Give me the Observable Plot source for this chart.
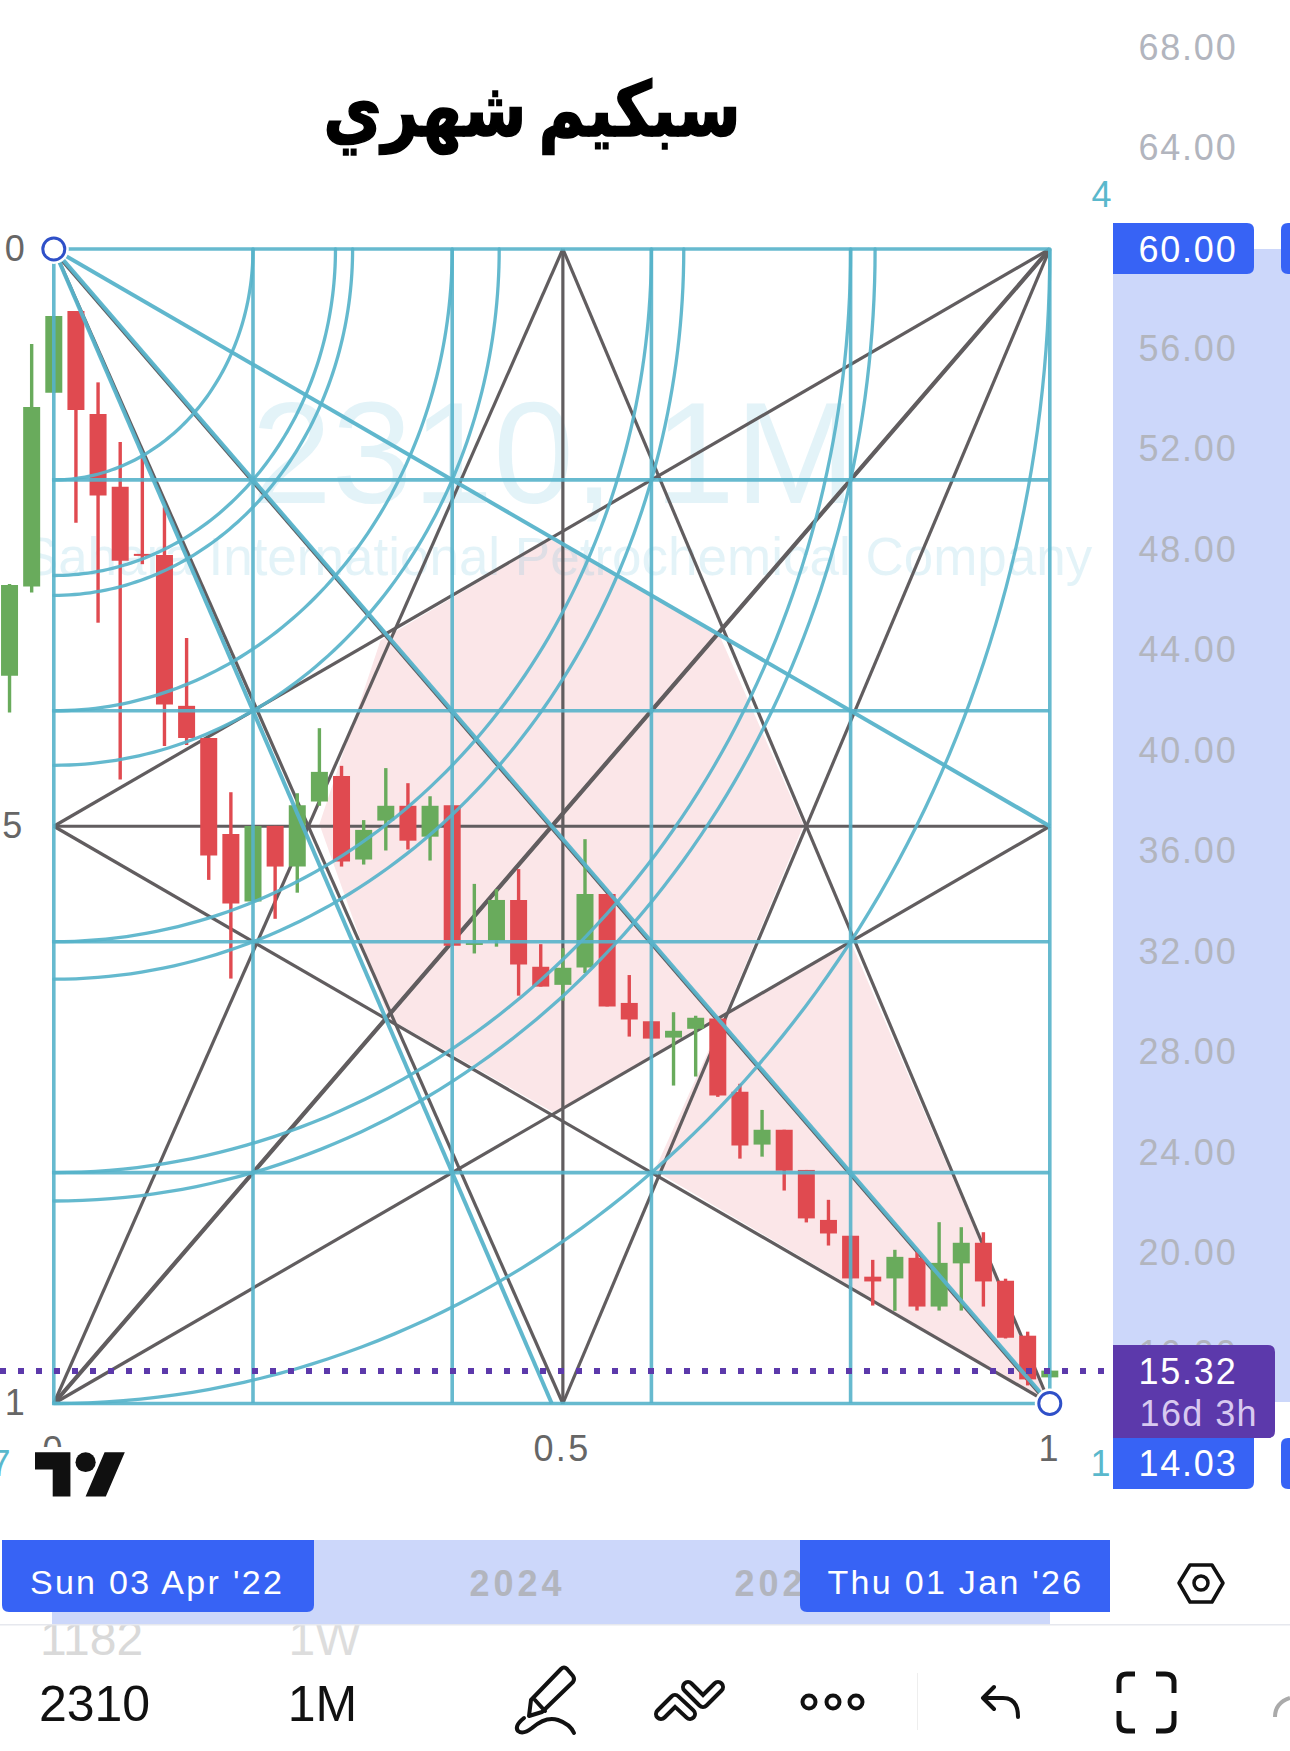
<!DOCTYPE html>
<html lang="ar">
<head>
<meta charset="utf-8">
<title>2310 1M</title>
<script src="https://cdn.jsdelivr.net/npm/d3@7"></script>
<script src="https://cdn.jsdelivr.net/npm/@observablehq/plot@0.6"></script>
<style>
html,body{margin:0;padding:0;background:#fff;overflow:hidden}
svg{display:block}
</style>
</head>
<body>
<div id="chart"></div>
<script>
// ---------- data ----------
const opens  = [42.99,46.54,54.26,57.51,53.41,50.51,47.84,47.80,41.79,40.51,36.69,34.00,37.01,35.39,37.98,39.00,35.67,37.22,37.81,36.58,37.83,32.27,32.44,34.06,31.40,30.68,31.37,34.30,29.96,29.23,28.58,28.93,29.34,26.42,24.32,24.91,23.31,21.32,20.69,19.06,18.99,19.81,17.87,19.59,20.41,18.90,16.71,15.05];
const highs  = [46.64,56.20,57.31,57.51,54.67,52.30,51.65,49.70,44.49,40.51,38.35,37.01,37.01,38.31,40.90,39.40,37.24,39.31,38.71,38.19,37.83,34.70,34.49,35.29,32.30,32.14,36.48,34.30,31.07,29.23,29.59,29.45,29.34,26.74,25.70,24.91,23.31,22.12,20.69,19.73,20.13,20.05,21.23,21.03,20.83,18.98,16.87,15.32];
const lows   = [41.52,46.30,54.26,49.08,45.10,38.86,47.43,40.19,40.23,34.86,30.93,34.00,33.31,34.35,37.81,35.39,35.47,36.03,36.07,35.63,32.24,31.93,32.20,30.25,30.61,30.05,31.15,29.82,28.62,28.54,26.67,27.03,26.22,23.76,23.84,22.49,21.22,20.30,18.99,17.91,17.70,17.71,17.71,17.71,17.87,16.60,14.73,15.05];
const closes = [46.60,53.69,57.31,53.57,50.16,47.57,47.76,41.84,40.51,35.83,33.92,37.01,35.39,37.83,39.16,35.59,36.85,37.81,36.42,37.81,32.24,32.35,34.06,31.49,30.61,31.36,34.30,29.82,29.30,28.54,28.85,29.37,26.27,24.28,24.91,23.28,21.38,20.78,18.99,18.87,19.85,17.87,19.61,20.41,18.87,16.63,14.97,15.32];

const priceTicks = [68,64,60,56,52,48,44,40,36,32,28,24,20,16];
const lastPrice = 15.32, boxHigh = 60, boxLow = 14.03, boxMid = 37.015;
const boxStart = 2, boxEnd = 47, boxCentre = 25, boxHalf = 24.5;
const gridLevels = [0,0.2,0.4,0.6,0.8,1];
const arcRadii = [0.2,0.2828,0.3,0.4,0.4472,0.6,0.6325,0.8,0.8246,1];

// pattern fill outlines: [bar position, price]
const patternUpper = [[14.0,37.09],[16.76,44.41],[24.58,48.51],[32.12,44.53],[35.87,37.05],[32.30,29.49],[24.58,25.62],[17.12,29.37]];
const patternLower = [[32.30,29.49],[38,32.43],[47,14.03],[29.14,23.31]];

// ---------- colours ----------
const teal="#57b3ca", grey="#615d5f", up="#69ab5c", down="#e04a50", pink="#fbe6e8",
      blue="#3763f5", band="#ccd7fa", purple="#5c39ab", axisGrey="#b2b5be", lvlGrey="#666666", tealLabel="#5ab8cc";

// ---------- derived tables ----------
const candles = opens.map((open,i)=>({i,open,high:highs[i],low:lows[i],close:closes[i]}));
const colorOf = d => d.close>=d.open ? up : down;
const xFrac = f => boxStart + f*(boxEnd-boxStart);
const yFrac = f => boxHigh - f*(boxHigh-boxLow);
const tealRays = [[boxHalf,boxLow],[boxEnd,boxLow],[boxEnd,boxMid]].map(([x2,y2])=>({x1:boxStart,y1:boxHigh,x2,y2}));
const greyLines = [
  [boxStart,boxLow,boxCentre,boxHigh],[boxStart,boxLow,boxEnd,boxMid],[boxStart,boxLow,boxEnd,boxHigh],
  [boxEnd,boxHigh,boxCentre,boxLow],[boxEnd,boxHigh,boxStart,boxMid],
  [boxStart,boxHigh,boxCentre,boxLow],[boxEnd,boxLow,boxCentre,boxHigh],[boxEnd,boxLow,boxStart,boxMid],
  [boxEnd,boxMid,boxStart,boxMid],[boxCentre,boxHigh,boxCentre,boxLow]
].map(([x1,y1,x2,y2])=>({x1,y1,x2,y2}));
const arcAngles = d3.range(0,90.5,1);

// ---------- helpers ----------
const sans = "Liberation Sans, Arial, sans-serif";
const label = (t,x,y,o={}) => Plot.text([t],{text:d=>d,frameAnchor:"top-left",dx:x,dy:y,textAnchor:"middle",lineAnchor:"middle",fontFamily:sans,fontSize:36,...o});
function rr(x,y,w,h,tl,tr,br,bl){
  return `M${x+tl} ${y}H${x+w-tr}Q${x+w} ${y} ${x+w} ${y+tr}V${y+h-br}Q${x+w} ${y+h} ${x+w-br} ${y+h}H${x+bl}Q${x} ${y+h} ${x} ${y+h-bl}V${y+tl}Q${x} ${y} ${x+tl} ${y}Z`;
}
const chrome = draw => () => { const g=d3.create("svg:g"); draw(g); return g.node(); };
const R = (g,x,y,w,h,f)=>g.append("rect").attr("x",x).attr("y",y).attr("width",w).attr("height",h).attr("fill",f);
const P = (g,d,f,s,w)=>g.append("path").attr("d",d).attr("fill",f||"none").attr("stroke",s||"none").attr("stroke-width",w||0).attr("stroke-linecap","round").attr("stroke-linejoin","round");

const backdrop = chrome(g=>{ R(g,1113,249,177,1153,band); });
const labelBoxes = chrome(g=>{
  P(g,rr(1113,223,141,51,0,7,7,0),blue);
  P(g,rr(1281,223,9,51,7,0,0,7),blue);
  P(g,rr(1113,1345,162,93,0,7,7,0),purple);
  P(g,rr(1113,1438,141,51,0,0,7,0),blue);
  P(g,rr(1281,1438,9,51,7,0,0,7),blue);
});
const logoMask = chrome(g=>{ R(g,28,1447,110,54,"#fff"); });
const logo = chrome(g=>{
  const t=g.append("g").attr("transform","translate(35,1442.5) scale(2.53,2.46)");
  t.append("path").attr("d","M14 22H7V11H0V4h14v18zM28 22h-8l7.5-18h8L28 22z").attr("fill","#101010");
  t.append("circle").attr("cx",20).attr("cy",8).attr("r",4).attr("fill","#101010");
});
const bottomBackdrop = chrome(g=>{
  R(g,0,1500,1290,124,"#fff");
  R(g,52,1540,998,84,band);
  R(g,0,1624,1290,1.5,"#e6e8ee");
});
const dateBoxes = chrome(g=>{
  P(g,rr(2,1540,312,72,0,0,7,7),blue);
  P(g,rr(800,1540,310,72,0,0,0,7),blue);
  P(g,"M1179 1583L1190 1565H1212L1223 1583L1212 1602H1190Z",null,"#111",3.5);
  g.append("circle").attr("cx",1201).attr("cy",1583).attr("r",7).attr("fill","none").attr("stroke","#111").attr("stroke-width",3.5);
});
const toolbar = chrome(g=>{
  const k="#111";
  P(g,"M531 1700L561 1669Q564 1666 567 1669L573 1676Q575 1679 573 1682L542 1712L529 1716Z",null,k,4);
  P(g,"M535 1700L545 1711",null,k,4);
  P(g,"M524 1718Q514 1726 518 1731Q523 1735 532 1728Q546 1716 558 1720Q570 1724 574 1733",null,k,4);
  ["M661 1714L675 1700L690 1714","M688 1687L703 1702L718 1687"].forEach(d=>{
    P(g,d,null,k,14); P(g,d,null,"#fff",6);
  });
  [809,833,856].forEach(cx=>g.append("circle").attr("cx",cx).attr("cy",1702).attr("r",6.5).attr("fill","none").attr("stroke",k).attr("stroke-width",4));
  R(g,917,1673,1,57,"#eeeeee");
  P(g,"M994 1687L983 1698L994 1709M983 1698H1003Q1018 1698 1018 1717",null,k,4);
  P(g,"M1119 1693V1682Q1119 1674 1127 1674H1135M1156 1674H1165Q1174 1674 1174 1682V1693M1174 1711V1722Q1174 1731 1165 1731H1156M1135 1731H1127Q1119 1731 1119 1722V1711",null,k,5)
    .attr("stroke-linecap","butt");
  P(g,"M1275 1717Q1275 1703 1290 1698",null,"#aaaaaa",4).attr("stroke-linecap","butt");
});
const title = chrome(g=>{
  g.append("text").text("سبكيم شهري")
    .attr("transform","translate(532,136) scale(0.84,1)")
    .attr("text-anchor","middle")
    .attr("font-family","DejaVu Sans").attr("font-weight",700).attr("font-size",76)
    .attr("fill","#000").attr("stroke","#000").attr("stroke-width",1.6)
    .style("word-spacing","-12px");
});

// ---------- the plot ----------
const chart = Plot.plot({
  width:1290, height:1751,
  marginLeft:0, marginRight:0, marginTop:0, marginBottom:0,
  style:{background:"#fff",fontFamily:sans,overflow:"hidden"},
  x:{domain:[boxStart,boxEnd],range:[53.3,1049.3],axis:null},
  y:{domain:[boxHigh,boxLow],range:[248.5,1403],axis:null},
  color:{type:"identity"},
  marks:[
    backdrop,
    // pattern fills
    Plot.line(patternUpper.concat([patternUpper[0]]),{x:"0",y:"1",stroke:"none",fill:pink}),
    Plot.line(patternLower.concat([patternLower[0]]),{x:"0",y:"1",stroke:"none",fill:pink}),
    // watermark
    label("2310, 1M",553,456,{fontSize:145,fill:"#5ab8d5",fillOpacity:0.17}),
    label("Sahara International Petrochemical Company",557,558,{fontSize:53,fill:"#5ab8d5",fillOpacity:0.17}),
    // grey star
    Plot.link(greyLines,{x1:"x1",y1:"y1",x2:"x2",y2:"y2",stroke:grey,strokeWidth:3.2}),
    Plot.link([{x1:boxStart,y1:boxLow,x2:boxEnd,y2:boxHigh}],{x1:"x1",y1:"y1",x2:"x2",y2:"y2",stroke:grey,strokeWidth:4.2}),
    Plot.link([{x1:boxStart,y1:boxHigh,x2:boxEnd,y2:boxLow}],{x1:"x1",y1:"y1",x2:"x2",y2:"y2",stroke:grey,strokeWidth:3.2,dx:-1,dy:1}),
    // candles
    Plot.ruleX(candles,{x:"i",y1:"low",y2:"high",stroke:colorOf,strokeWidth:3.4}),
    Plot.ruleX(candles,{x:"i",y1:"open",y2:"close",stroke:colorOf,strokeWidth:17}),
    // teal grid, arcs, fan
    Plot.ruleY(gridLevels,{y:yFrac,x1:boxStart-0.06,x2:boxEnd,stroke:teal,strokeWidth:3.6,strokeOpacity:0.9}),
    Plot.ruleX(gridLevels,{x:d=>boxStart+Math.round(d*(boxEnd-boxStart)),y1:boxHigh,y2:boxLow,stroke:teal,strokeWidth:3.6,strokeOpacity:0.9}),
    ...arcRadii.map(r=>Plot.line(arcAngles,{
      x:a=>xFrac(r*Math.cos(a*Math.PI/180)),
      y:a=>yFrac(r*Math.sin(a*Math.PI/180)),
      stroke:teal,strokeWidth:3.3,strokeOpacity:0.92,curve:"linear"})),
    Plot.link(tealRays,{x1:"x1",y1:"y1",x2:"x2",y2:"y2",stroke:teal,strokeWidth:4,strokeOpacity:0.95}),
    // level labels on the box
    Plot.text([[0,boxHigh,"0"],[0.5,boxMid,"0.5"],[1,boxLow,"1"]],{x:()=>boxStart,y:"1",text:"2",dx:-29,textAnchor:"end",fill:lvlGrey,fontSize:36,fontFamily:sans}),
    label("0",52,1450,{fill:lvlGrey}),
    label("0.5",561.5,1449,{fill:lvlGrey}),
    label("1",1048,1449,{fill:lvlGrey}),
    label("4",1101,195,{fill:tealLabel}),
    label("1",1100,1464,{fill:tealLabel}),
    label("7",0,1464,{fill:tealLabel}),
    // price axis
    Plot.text(priceTicks,{y:d=>d,text:d=>d.toFixed(2),frameAnchor:"right",dx:-53,fill:axisGrey,fontSize:36,fontFamily:sans}),
    // last price line
    Plot.ruleY([lastPrice],{x1:boxStart-(53.3/22.133),x2:49.55,stroke:purple,strokeWidth:6,strokeDasharray:"6 12"}),
    // handles
    Plot.dot([[boxStart,boxHigh],[boxEnd,boxLow]],{x:"0",y:"1",r:15,fill:"#fff",stroke:"none"}),
    Plot.dot([[boxStart,boxHigh],[boxEnd,boxLow]],{x:"0",y:"1",r:11,fill:"#fff",stroke:"#2f50c8",strokeWidth:3}),
    // price labels
    labelBoxes,
    label(boxHigh.toFixed(2),1237,249.5,{textAnchor:"end",fill:"#fff"}),
    label(lastPrice.toFixed(2),1237,1372,{textAnchor:"end",fill:"#fff"}),
    label("16d 3h",1139,1414,{textAnchor:"start",fill:"#d8c9f0"}),
    label(boxLow.toFixed(2),1237,1464,{textAnchor:"end",fill:"#fff"}),
    // logo
    logoMask, logo,
    // symbol bar behind the date strip
    label("1182",91,1639,{fontSize:48,fill:"#d9d9d9"}),
    label("1W",324,1639,{fontSize:48,fill:"#dddddd"}),
    bottomBackdrop,
    label("2024",517,1584,{fontSize:36,fontWeight:700,fill:axisGrey}),
    label("2025",782,1584,{fontSize:36,fontWeight:700,fill:axisGrey}),
    dateBoxes,
    label("Sun 03 Apr '22",156.5,1583,{fontSize:34,fill:"#fff"}),
    label("Thu 01 Jan '26",955,1583,{fontSize:34,fill:"#fff"}),
    label("2310",94,1704,{fontSize:50,fill:"#111"}),
    label("1M",322,1704,{fontSize:50,fill:"#111"}),
    toolbar,
    title
  ]
});
document.getElementById("chart").appendChild(chart);

// letter spacing of the interface labels, which Plot's text mark has no option for
chart.querySelectorAll("text").forEach(t=>{
  const s=t.textContent;
  if(/^\d+\.\d\d$/.test(s)) t.style.letterSpacing="1.8px";
  else if(s==="16d 3h") t.style.letterSpacing="1.4px";
  else if(s==="0.5") t.style.letterSpacing="2.4px";
  else if(/^(Sun|Thu) /.test(s)) t.style.letterSpacing="2.3px";
  else if(/^202\d$/.test(s)) t.style.letterSpacing="4px";
});
</script>
</body>
</html>
